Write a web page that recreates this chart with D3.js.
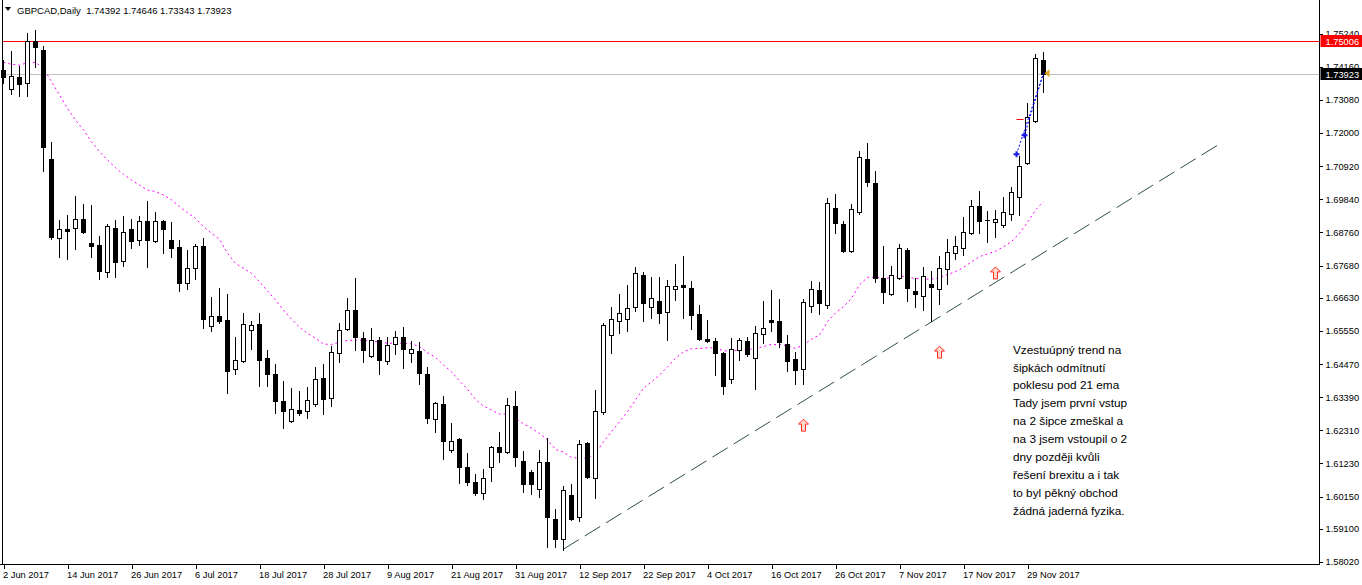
<!DOCTYPE html>
<html><head><meta charset="utf-8">
<script src="https://cdn.jsdelivr.net/npm/d3@7"></script>
<style>body{margin:0;background:#fff;overflow:hidden} svg{display:block;}</style>
</head><body><svg id="c" width="1362" height="585"></svg>
<script>
// ---- data (daily GBPCAD candles, 2 Jun 2017 .. 1 Dec 2017) ----
const open=[1.7405,1.7343,1.7382,1.7363,1.7500,1.7470,1.7115,1.6858,1.6887,1.6890,
1.6920,1.6841,1.6835,1.6747,1.6890,1.6783,1.6887,1.6851,1.6913,1.6848,
1.6913,1.6851,1.6828,1.6711,1.6760,1.6832,1.6571,1.6604,1.6591,1.6431,
1.6457,1.6558,1.6577,1.6467,1.6415,1.6327,1.6261,1.6297,1.6294,1.6317,
1.6402,1.6336,1.6483,1.6561,1.6623,1.6532,1.6473,1.6525,1.6457,1.6512,
1.6535,1.6483,1.6490,1.6415,1.6268,1.6317,1.6167,1.6203,1.6112,1.6063,
1.6027,1.6112,1.6177,1.6160,1.6310,1.6131,1.6095,1.6040,1.6128,1.5942,
1.5877,1.6020,1.5949,1.6190,1.6076,1.6291,1.6542,1.6587,1.6594,1.6633,
1.6737,1.6633,1.6652,1.6617,1.6692,1.6705,1.6695,1.6610,1.6529,1.6522,
1.6483,1.6398,1.6493,1.6522,1.6467,1.6545,1.6591,1.6587,1.6512,1.6463,
1.6431,1.6636,1.6688,1.6639,1.6955,1.6903,1.6815,1.6942,1.7115,1.7037,
1.6727,1.6675,1.6727,1.6819,1.6685,1.6669,1.6708,1.6692,1.6757,1.6809,
1.6825,1.6874,1.6962,1.6916,1.6910,1.6900,1.6936,1.6991,1.7102,1.7239,
1.74392];
const high=[1.7438,1.7467,1.7418,1.7526,1.7535,1.7483,1.7171,1.6916,1.6933,1.6995,
1.6968,1.6965,1.6864,1.6903,1.6916,1.6929,1.6920,1.6929,1.6978,1.6942,
1.6916,1.6910,1.6851,1.6819,1.6838,1.6858,1.6665,1.6695,1.6675,1.6535,
1.6613,1.6587,1.6613,1.6493,1.6447,1.6392,1.6369,1.6359,1.6372,1.6437,
1.6447,1.6506,1.6581,1.6662,1.6727,1.6551,1.6564,1.6535,1.6535,1.6555,
1.6568,1.6522,1.6519,1.6437,1.6322,1.6343,1.6255,1.6206,1.6157,1.6089,
1.6105,1.6180,1.6226,1.6336,1.6359,1.6164,1.6102,1.6167,1.6206,1.5975,
1.6050,1.6056,1.6200,1.6193,1.6362,1.6581,1.6633,1.6675,1.6705,1.6763,
1.6747,1.6731,1.6731,1.6721,1.6773,1.6799,1.6718,1.6639,1.6591,1.6532,
1.6486,1.6532,1.6532,1.6535,1.6571,1.6652,1.6688,1.6659,1.6542,1.6486,
1.6659,1.6718,1.6714,1.6988,1.7001,1.6913,1.6968,1.7141,1.7167,1.7076,
1.6832,1.6766,1.6838,1.6825,1.6727,1.6763,1.6750,1.6799,1.6854,1.6864,
1.6926,1.6982,1.7011,1.6946,1.6949,1.6991,1.7024,1.7125,1.7298,1.7457,
1.74646];
const low=[1.7363,1.7327,1.7320,1.7320,1.7415,1.7076,1.6854,1.6796,1.6789,1.6822,
1.6874,1.6796,1.6724,1.6731,1.6731,1.6766,1.6825,1.6835,1.6763,1.6845,
1.6809,1.6796,1.6685,1.6692,1.6724,1.6564,1.6555,1.6581,1.6353,1.6415,
1.6454,1.6496,1.6375,1.6375,1.6287,1.6239,1.6258,1.6281,1.6271,1.6310,
1.6284,1.6310,1.6454,1.6558,1.6493,1.6454,1.6470,1.6415,1.6447,1.6480,
1.6434,1.6454,1.6382,1.6255,1.6226,1.6138,1.6160,1.6059,1.6053,1.6020,
1.6007,1.6066,1.6128,1.6157,1.6115,1.6030,1.6024,1.6014,1.5851,1.5851,
1.5841,1.5939,1.5936,1.6077,1.6011,1.6284,1.6483,1.6548,1.6555,1.6620,
1.6587,1.6597,1.6581,1.6525,1.6656,1.6597,1.6561,1.6525,1.6519,1.6411,
1.6349,1.6385,1.6460,1.6473,1.6366,1.6516,1.6555,1.6503,1.6424,1.6382,
1.6382,1.6617,1.6610,1.6630,1.6874,1.6813,1.6813,1.6936,1.7027,1.6714,
1.6646,1.6673,1.6724,1.6652,1.6633,1.6623,1.6587,1.6643,1.6708,1.6789,
1.6802,1.6872,1.6874,1.6845,1.6861,1.6894,1.6916,1.6933,1.7100,1.7237,
1.73343];
const close=[1.7382,1.7386,1.7359,1.7500,1.7480,1.7154,1.6861,1.6887,1.6881,1.6920,
1.6877,1.6832,1.6750,1.6897,1.6780,1.6877,1.6848,1.6913,1.6851,1.6913,
1.6887,1.6825,1.6711,1.6760,1.6832,1.6594,1.6604,1.6587,1.6424,1.6460,
1.6577,1.6574,1.6460,1.6415,1.6327,1.6294,1.6301,1.6287,1.6330,1.6398,
1.6333,1.6486,1.6558,1.6623,1.6535,1.6493,1.6525,1.6460,1.6509,1.6535,
1.6496,1.6496,1.6418,1.6271,1.6320,1.6196,1.6196,1.6112,1.6063,1.6027,
1.6076,1.6177,1.6160,1.6314,1.6144,1.6056,1.6056,1.6128,1.5949,1.5877,
1.6037,1.5942,1.6186,1.6079,1.6294,1.6574,1.6594,1.6613,1.6630,1.6744,
1.6646,1.6662,1.6613,1.6701,1.6701,1.6698,1.6607,1.6529,1.6522,1.6483,
1.6375,1.6496,1.6525,1.6480,1.6548,1.6564,1.6584,1.6519,1.6457,1.6428,
1.6649,1.6692,1.6646,1.6972,1.6907,1.6815,1.6952,1.7122,1.7040,1.6727,
1.6682,1.6737,1.6825,1.6695,1.6675,1.6734,1.6698,1.6760,1.6812,1.6832,
1.6877,1.6962,1.6913,1.6915,1.6920,1.6942,1.7008,1.7092,1.7252,1.7445,
1.73923];
const ema21=[1.7430,1.7424,1.7421,1.7429,1.7430,1.7411,1.7367,1.7324,1.7280,1.7242,
1.7210,1.7171,1.7139,1.7112,1.7087,1.7065,1.7047,1.7030,1.7014,1.7009,
1.6998,1.6982,1.6960,1.6940,1.6922,1.6895,1.6873,1.6854,1.6808,1.6775,
1.6759,1.6743,1.6715,1.6685,1.6656,1.6623,1.6593,1.6567,1.6547,1.6531,
1.6512,1.6511,1.6518,1.6524,1.6525,1.6524,1.6522,1.6519,1.6515,1.6515,
1.6515,1.6513,1.6504,1.6484,1.6469,1.6444,1.6422,1.6392,1.6365,1.6332,
1.6310,1.6297,1.6284,1.6284,1.6270,1.6252,1.6238,1.6221,1.6200,1.6169,
1.6160,1.6143,1.6140,1.6140,1.6156,1.6194,1.6227,1.6259,1.6292,1.6330,
1.6368,1.6389,1.6411,1.6438,1.6466,1.6487,1.6497,1.6498,1.6500,1.6500,
1.6490,1.6490,1.6493,1.6495,1.6497,1.6504,1.6511,1.6511,1.6506,1.6498,
1.6509,1.6528,1.6542,1.6585,1.6614,1.6634,1.6661,1.6705,1.6730,1.6730,
1.6727,1.6728,1.6735,1.6730,1.6726,1.6724,1.6724,1.6728,1.6739,1.6748,
1.6762,1.6780,1.6797,1.6806,1.6815,1.6829,1.6846,1.6873,1.6909,1.6949,
1.6976];
const xTickLabels=["2 Jun 2017","14 Jun 2017","26 Jun 2017","6 Jul 2017","18 Jul 2017","28 Jul 2017","9 Aug 2017","21 Aug 2017","31 Aug 2017","12 Sep 2017","22 Sep 2017","4 Oct 2017","16 Oct 2017","26 Oct 2017","7 Nov 2017","17 Nov 2017","29 Nov 2017"];
const xTickEvery=8;
const yTickValues=[1.7524,1.7416,1.7308,1.7200,1.7092,1.6984,1.6876,1.6768,1.6663,1.6555,1.6447,1.6339,1.6231,1.6123,1.6015,1.5910,1.5802];
const yTickLabels=["1.75240","1.74160","1.73080","1.72000","1.70920","1.69840","1.68760","1.67680","1.66630","1.65550","1.64470","1.63390","1.62310","1.61230","1.60150","1.59100","1.58020"];
const symbolTitle="GBPCAD,Daily";
const lastOHLC=["1.74392","1.74646","1.73343","1.73923"];
const redLevel=1.75006, redLabel="1.75006";
const bidLevel=1.73923, bidLabel="1.73923";
const trendBars=[70,152], trendPrices=[1.5844,1.7164];
const arrowBars=[100,117,124], arrowPrices=[1.6248,1.6486,1.6744];
const entryBars=[127,128], entryPrices=[1.7131,1.7193];
const exitBar=130, exitPrice=1.7395;
const stopBar=128, stopPrice=1.7244;
const noteBar=126, notePrice=1.6481;
const noteLines=["Vzestuúpný trend na","šipkách odmítnutí","poklesu pod 21 ema","Tady jsem první vstup","na 2 šipce zmeškal a","na 3 jsem vstoupil o 2","dny později kvůli","řešení brexitu a i tak","to byl pěkný obchod","žádná jaderná fyzika."];

// ---- layout ----
const svg=d3.select("#c");
const F="'Liberation Sans', Arial, sans-serif";
const plotL=2.5, plotR=1319.5, plotB=564.5, plotT=0;
const x=d3.scaleLinear().domain([0,130]).range([3.5,1043.5]);
const y=d3.scaleLinear().domain([1.5802,1.7416]).range([562,66.7]);
const px=v=>Math.round(v)+0.5;

const g=svg.append("g");
// horizontal levels
g.append("line").attr("x1",plotL).attr("x2",plotR).attr("y1",px(y(bidLevel))).attr("y2",px(y(bidLevel)))
 .attr("stroke","#c0c0c0").attr("shape-rendering","crispEdges");
g.append("line").attr("x1",plotL).attr("x2",plotR).attr("y1",px(y(redLevel))).attr("y2",px(y(redLevel)))
 .attr("stroke","#ff0000").attr("shape-rendering","crispEdges");

// EMA 21
g.append("path").datum(ema21)
 .attr("d",d3.line().x((d,i)=>x(i)).y(d=>y(d)))
 .attr("fill","none").attr("stroke","#ff00ff").attr("stroke-width",1).attr("stroke-dasharray","2,3");

// trend line
g.append("line").attr("x1",x(trendBars[0])).attr("y1",y(trendPrices[0])).attr("x2",x(trendBars[1])).attr("y2",y(trendPrices[1]))
 .attr("stroke","#2f4f4f").attr("stroke-width",1).attr("stroke-dasharray","18,7");

// candles
const idx=d3.range(open.length);
const cg=g.append("g").attr("shape-rendering","crispEdges");
idx.forEach(i=>{
  const cx=x(i);
  cg.append("line").attr("x1",cx).attr("x2",cx).attr("y1",Math.round(y(high[i]))).attr("y2",Math.round(y(low[i]))+1).attr("stroke","#000");
  const top=Math.round(y(Math.max(open[i],close[i]))), bot=Math.round(y(Math.min(open[i],close[i])));
  const bull=close[i]>open[i];
  if(bot-top<1){
    cg.append("line").attr("x1",cx-2.5).attr("x2",cx+2.5).attr("y1",top+0.5).attr("y2",top+0.5).attr("stroke","#000");
  } else {
    cg.append("rect").attr("x",cx-2).attr("y",top+0.5).attr("width",4).attr("height",bot-top)
      .attr("fill",bull?"#fff":"#000").attr("stroke","#000");
  }
});

// arrows
const arrowPath="M0,-6 L5,-1 L2,-1 L2,6 L-2,6 L-2,-1 L-5,-1 Z";
arrowBars.forEach((b,i)=>{
  g.append("path").attr("d",arrowPath).attr("transform",`translate(${x(b)},${y(arrowPrices[i])})`)
   .attr("fill","#ffd8c8").attr("stroke","#ff2a2a").attr("stroke-width",1);
});

// trades
entryBars.forEach((b,i)=>{
  g.append("line").attr("x1",x(b)-3).attr("y1",y(entryPrices[i])).attr("x2",x(exitBar)).attr("y2",y(exitPrice))
   .attr("stroke","#0000ff").attr("stroke-dasharray","2,2");
});
entryBars.forEach((b,i)=>{
  const cx=x(b)-3, cy=y(entryPrices[i]);
  g.append("path").attr("d",`M${cx-3},${cy} H${cx+3} M${cx},${cy-3} V${cy+3}`).attr("stroke","#1a1ae6").attr("stroke-width",2);
});
g.append("line").attr("x1",x(stopBar)-11).attr("x2",x(stopBar)-4).attr("y1",y(stopPrice)).attr("y2",y(stopPrice)).attr("stroke","#ff0000").attr("stroke-width",1);
{
  const ex=x(exitBar)+1, ey=y(exitPrice);
  g.append("path").attr("d",`M${ex},${ey} L${ex+5},${ey-4} L${ex+5},${ey+4} Z`).attr("fill","#daa520");
}

// note text
const nt=g.append("text").attr("font-family",F).attr("font-size",11.8).attr("fill","#000");
noteLines.forEach((t,i)=>{
  nt.append("tspan").attr("x",x(noteBar)+1.5).attr("y",y(notePrice)+17.9*i).text(t);
});

// frame
const fr=svg.append("g").attr("shape-rendering","crispEdges").attr("stroke","#000");
fr.append("line").attr("x1",plotL).attr("x2",plotL).attr("y1",plotT).attr("y2",plotB);
fr.append("line").attr("x1",0).attr("x2",plotR).attr("y1",plotB).attr("y2",plotB);
fr.append("line").attr("x1",plotR).attr("x2",plotR).attr("y1",plotT).attr("y2",plotB);

// right axis
const ya=svg.append("g").attr("transform",`translate(${plotR},0)`)
 .call(d3.axisRight(y).tickValues(yTickValues).tickFormat((d,i)=>yTickLabels[i]).tickSize(3).tickPadding(3));
ya.select(".domain").remove();
ya.selectAll("text").attr("font-family",F).attr("font-size",9.3).attr("fill","#000");
ya.selectAll(".tick line").attr("stroke","#000").attr("shape-rendering","crispEdges");

// bottom axis
const xTickVals=xTickLabels.map((d,i)=>i*xTickEvery);
const xa=svg.append("g").attr("transform",`translate(0,${plotB})`)
 .call(d3.axisBottom(x).tickValues(xTickVals).tickFormat((d,i)=>xTickLabels[i]).tickSize(4).tickPadding(3));
xa.select(".domain").remove();
xa.selectAll("text").attr("font-family",F).attr("font-size",9.3).attr("fill","#000").attr("text-anchor","start").attr("dx",-1);
xa.selectAll(".tick line").attr("stroke","#000").attr("shape-rendering","crispEdges");

// price labels on axis
[[redLevel,redLabel,"#ff0000"],[bidLevel,bidLabel,"#000"]].forEach(([v,t,c])=>{
  const yy=Math.round(y(v));
  svg.append("rect").attr("x",plotR+1).attr("y",yy-6).attr("width",1362-plotR-1).attr("height",12).attr("fill",c);
  svg.append("text").attr("x",plotR+6).attr("y",yy+3.5).attr("font-family",F).attr("font-size",9.3).attr("fill","#fff").text(t);
});

// header
svg.append("path").attr("d","M5,7 L11,7 L8,11 Z").attr("fill","#000");
svg.append("text").attr("x",17).attr("y",14).attr("font-family",F).attr("font-size",9.5).attr("fill","#000")
 .attr("xml:space","preserve").text(symbolTitle+"  "+lastOHLC.join(" "));
</script></body></html>
